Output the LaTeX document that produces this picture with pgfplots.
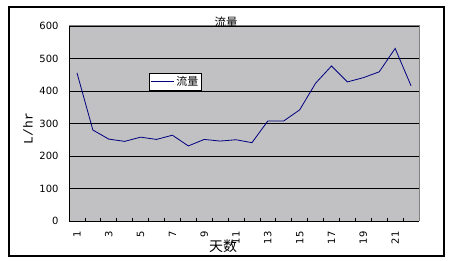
\documentclass[border=0pt]{standalone}
\usepackage{fontspec}
\usepackage{pgfplots}
\pgfplotsset{compat=1.18}
\setmainfont{DejaVu Sans}
\newfontfamily\cjk{Noto Sans CJK SC}
\newfontfamily\lmono{Liberation Mono}
\definecolor{plotgray}{RGB}{193,192,195}
\definecolor{navyline}{RGB}{0,0,128}
\definecolor{framegray}{RGB}{128,128,128}
\begin{document}
\begin{tikzpicture}[x=1bp,y=1bp]
\useasboundingbox (0,0) rectangle (450,260);
\fill[white] (0,0) rectangle (450,260);
\draw[black, line width=1.2bp] (9,4) rectangle (444,253);
\begin{axis}[
  at={(69bp,39bp)}, anchor=south west,
  scale only axis, width=350bp, height=195bp,
  xmin=0.5, xmax=22.5, ymin=0, ymax=600,
  axis x line*=bottom, axis y line*=left,
  axis line style={black, line width=1bp, -},
  axis background/.style={fill=plotgray},
  /pgf/number format/assume math mode=true,
  ytick={0,100,...,600},
  ymajorgrids, grid style={black, line width=0.9bp},
  major tick length=0pt,
  xtick={1,3,...,21},
  minor xtick={1.5,2.5,...,22.5},
  minor tick length=3.5bp,
  tick align=inside,
  minor tick style={black, line width=0.8bp},
  tick label style={font=\fontsize{10}{12}\selectfont},
  yticklabel style={xshift=-7bp},
  xticklabel style={rotate=90, anchor=east, xshift=-7bp},
  legend style={at={(rel axis cs:0.304,0.715)}, anchor=center,
    draw=black, fill=white, line width=0.8bp,
    font=\cjk\fontsize{11}{13}\selectfont,
    inner sep=1bp, outer sep=0pt},
  legend image code/.code={\draw[#1] (0bp,0bp) -- (23bp,0bp);},
  clip=false,
]
\addplot[navyline, line width=0.8bp] coordinates {
(1,456) (2,280) (3,252) (4,245) (5,258) (6,251) (7,264) (8,231)
(9,251) (10,246) (11,250) (12,241) (13,308) (14,308) (15,342)
(16,424) (17,477) (18,428) (19,441) (20,459) (21,531) (22,416)
};
\addlegendentry{流量}
\draw[framegray, line width=1bp] (rel axis cs:0,1) -- (rel axis cs:1,1) -- (rel axis cs:1,0);
\end{axis}
\node[font=\cjk\fontsize{11.5}{13}\selectfont] at (226,238) {流量};
\node[font=\cjk\fontsize{14}{16}\selectfont] at (223,14) {天数};
\node[font=\lmono\fontsize{13}{15}\selectfont, rotate=90] at (28,131.5) {L/hr};
\end{tikzpicture}
\end{document}
